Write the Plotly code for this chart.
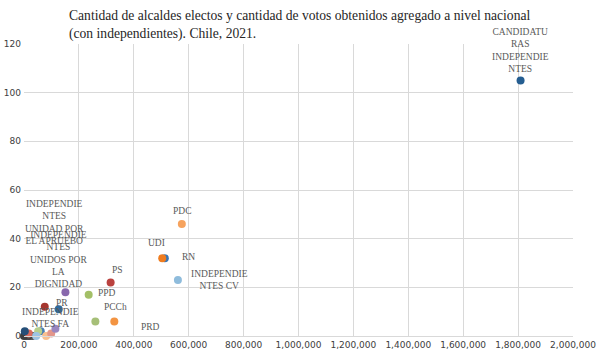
import plotly.graph_objects as go

# ---- data ----
parties = [
    "CANDIDATURAS INDEPENDIENTES", "PDC", "UDI", "RN", "INDEPENDIENTES CV",
    "PS", "PPD", "PRD", "PCCh", "INDEPENDIENTES UNIDOS POR LA DIGNIDAD",
    "INDEPENDIENTES UNIDAD POR EL APRUEBO", "PR", "INDEPENDIENTES FA",
    "P15", "P16", "P17", "P18", "P19", "P20", "P21", "P22", "P23", "P24", "P25", "P26",
]
votos = [
    1809000, 575000, 503600, 513000, 560700,
    315600, 235600, 260000, 329000, 150900,
    75600, 126500, 114500,
    99000, 80700, 44400, 51600, 61000, 3000, 17500, 0, 8000, 15000, 25000, 30000,
]
alcaldes = [
    105, 46, 32, 32, 23,
    22, 17, 6, 6, 18,
    12, 11, 3,
    1, 0, 0, 2, 2, 2, 1, 0, 0, 0, 0, 0,
]
colores = [
    "#255e91", "#f6a35e", "#ef7c1f", "#3a76b4", "#8fbcdc",
    "#b9413e", "#a3bf67", "#a6bf78", "#f39442", "#8868ad",
    "#a5362f", "#2f6a9c", "#9a87c0",
    "#e3968a", "#f9c08f", "#9cc3e3", "#b7cf8c", "#4a7fb5", "#264f78", "#d96b5e",
    "#3f3f3f", "#4d4d4d", "#404040", "#5a5a5a", "#474747",
]
etiquetas = {
    "CANDIDATURAS INDEPENDIENTES": "CANDIDATU<br>RAS<br>INDEPENDIE<br>NTES",
    "PDC": "PDC",
    "UDI": "UDI",
    "RN": "RN",
    "INDEPENDIENTES CV": "INDEPENDIE<br>NTES CV",
    "PS": "PS",
    "PPD": "PPD",
    "PRD": "PRD",
    "PCCh": "PCCh",
    "INDEPENDIENTES UNIDOS POR LA DIGNIDAD": "INDEPENDIE<br>NTES<br>UNIDOS POR<br>LA<br>DIGNIDAD",
    "INDEPENDIENTES UNIDAD POR EL APRUEBO": "INDEPENDIE<br>NTES<br>UNIDAD POR<br>EL APRUEBO",
    "PR": "PR",
    "INDEPENDIENTES FA": "INDEPENDIE<br>NTES FA",
}
# label offsets in pixels (dx right, dy down) relative to each point
offsets = {
    "CANDIDATURAS INDEPENDIENTES": (0, -30),
    "PDC": (0, -13),
    "UDI": (-6, -15),
    "RN": (24, -1),
    "INDEPENDIENTES CV": (42, 0),
    "PS": (7, -12),
    "PPD": (18, -2),
    "PRD": (55, 6),
    "PCCh": (1, -14),
    "INDEPENDIENTES UNIDOS POR LA DIGNIDAD": (-7, -33),
    "INDEPENDIENTES UNIDAD POR EL APRUEBO": (10, -84),
    "PR": (3, -6),
    "INDEPENDIENTES FA": (-5, -11),
}
x_ticks = list(range(0, 2000001, 200000))
y_ticks = list(range(0, 121, 20))

titulo = ("Cantidad de alcaldes electos y cantidad de votos obtenidos agregado a nivel nacional"
          "<br>(con independientes). Chile, 2021.")

W, H = 600, 355
ML, MR, MT, MB = 23.5, 26.5, 44, 19
PW, PH = W - ML - MR, H - MT - MB

fig = go.Figure()
# draw in reverse so the main series sit on top
for name, xv, yv, c in reversed(list(zip(parties, votos, alcaldes, colores))):
    fig.add_trace(go.Scatter(
        x=[xv], y=[yv], mode="markers", name=name,
        marker=dict(size=8, color=c, line=dict(width=0)),
        showlegend=False, cliponaxis=False,
    ))

serif = "Liberation Serif"
for name, xv, yv in zip(parties, votos, alcaldes):
    if name in etiquetas:
        dx, dy = offsets[name]
        fig.add_annotation(
            x=xv, y=yv, text=etiquetas[name], showarrow=False,
            xshift=dx, yshift=-dy, xanchor="center", yanchor="middle",
            font=dict(family=serif, size=9.5, color="#595959"),
            align="center",
        )

# title as a paper-anchored annotation for exact placement
fig.add_annotation(
    text=titulo, xref="paper", yref="paper",
    x=(67 - ML) / PW, y=1 + (MT - 6) / PH,
    xanchor="left", yanchor="top", align="left", showarrow=False,
    font=dict(family=serif, size=13.6, color="#262626"),
)

fig.update_layout(
    width=W, height=H,
    margin=dict(l=ML, r=MR, t=MT, b=MB, autoexpand=False),
    paper_bgcolor="white", plot_bgcolor="white",
    xaxis=dict(range=[0, 2000000], tickvals=x_ticks, tickformat=",",
               showgrid=True, gridcolor="#d9d9d9", gridwidth=1,
               zeroline=False, showline=True, linecolor="#d9d9d9",
               tickfont=dict(family="DejaVu Sans", size=9, color="#404040"),
               ticks="", automargin=False, fixedrange=True),
    yaxis=dict(range=[0, 120], tickvals=y_ticks,
               showgrid=True, gridcolor="#d9d9d9", gridwidth=1,
               zeroline=False, showline=False,
               tickfont=dict(family="DejaVu Sans", size=9, color="#404040"),
               ticks="", ticklabelstandoff=2, automargin=False, fixedrange=True),
)

fig.write_html("out.html", config={"displayModeBar": False},
               post_script="document.body.style.margin='0';document.body.style.padding='0';")
